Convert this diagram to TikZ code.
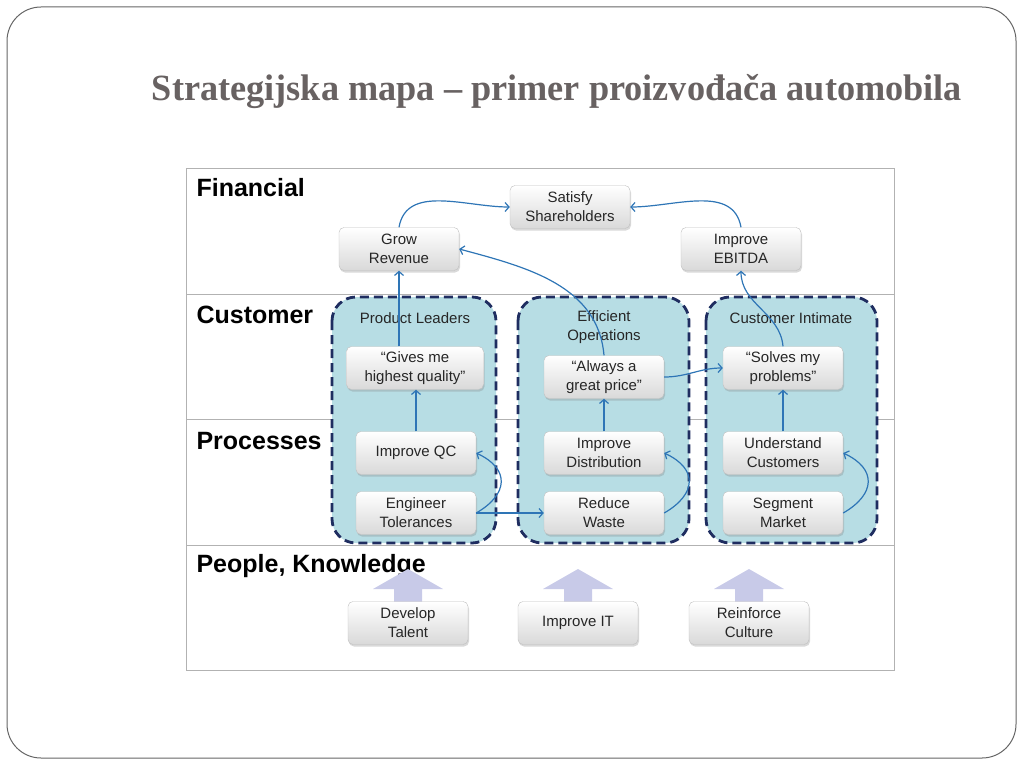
\documentclass[tikz,border=0pt]{standalone}
\usepackage{fontspec}
\setmainfont{Liberation Sans}
\newfontfamily\titlefont{Liberation Serif}
\usetikzlibrary{arrows.meta,shadows}

\definecolor{linkblue}{RGB}{46,117,182}
\definecolor{groupfill}{RGB}{183,221,228}
\definecolor{groupline}{RGB}{31,45,96}
\definecolor{titlegray}{RGB}{104,98,98}
\definecolor{uparrow}{RGB}{200,202,232}

\tikzset{
  objbox/.style={draw=gray!50, rounded corners=5pt, top color=white, bottom color=gray!30, minimum width=120pt, minimum height=43pt, align=center, text=black!85, font=\fontsize{15}{19}\selectfont, drop shadow={opacity=0.3, shadow xshift=1pt, shadow yshift=-2pt}},
  groupbox/.style={draw=groupline, fill=groupfill, line width=2.8pt, dash pattern=on 9pt off 5pt, rounded corners=24pt},
  rowlabel/.style={anchor=west, font=\bfseries\fontsize{25}{27}\selectfont},
  grouplabel/.style={align=center, font=\fontsize{15}{19}\selectfont, text=black!85},
  link/.style={draw=linkblue, line width=1.2pt, -{Straight Barb[length=4pt,width=9pt]}},
  bigarrow/.style={fill=uparrow, draw=none},
}

\begin{document}
\begin{tikzpicture}[x=1pt,y=-1pt]
\useasboundingbox (0,0) rectangle (1024,768);
\draw[gray!80!black, line width=1pt, rounded corners=34pt] (7,7) rectangle (1016,758);

\node (title) at (557,92) [text=titlegray] {\titlefont\bfseries\fontsize{37}{40}\selectfont\scalebox{0.98}[1]{Strategijska mapa – primer proizvođača automobila}};

% rows of the map
\draw[gray!60, line width=1pt] (186,168) rectangle (894,670);
\draw[gray!60, line width=1pt] (186,294) -- (894,294) (186,419) -- (894,419) (186,545) -- (894,545);
\node (fin) at (193,188) [rowlabel] {Financial};
\node (cus) at (193,315) [rowlabel] {Customer};
\node (pro) at (193,441) [rowlabel] {Processes};
\node (peo) at (193,566) [rowlabel] {People, Knowledge};

% the three value propositions
\draw[groupbox] (332,297) rectangle (496,543);
\draw[groupbox] (518,297) rectangle (689,543);
\draw[groupbox] (706,297) rectangle (877,543);
\node (pl) at (415,318) [grouplabel] {Product Leaders};
\node (eo) at (604,327) [grouplabel] {Efficient\\Operations};
\node (ci) at (791,318) [grouplabel] {Customer Intimate};

\foreach \ax in {408,578,749}
  \fill[bigarrow] (\ax-14,605) -- (\ax-14,589) -- (\ax-35,589) -- (\ax,569) -- (\ax+35,589) -- (\ax+14,589) -- (\ax+14,605) -- cycle;

\node (sat) at (570,207) [objbox] {Satisfy\\Shareholders};
\node (grow) at (399,249) [objbox] {Grow\\Revenue};
\node (ebit) at (741,249) [objbox] {Improve\\EBITDA};

\node (gives) at (415,368) [objbox, minimum width=137pt] {``Gives me\\highest quality''};
\node (always) at (604,377) [objbox] {``Always a\\great price''};
\node (solves) at (783,368) [objbox] {``Solves my\\problems''};

\node (qc) at (416,453) [objbox] {Improve QC};
\node (eng) at (416,513) [objbox] {Engineer\\Tolerances};
\node (dist) at (604,453) [objbox] {Improve\\Distribution};
\node (waste) at (604,513) [objbox] {Reduce\\Waste};
\node (under) at (783,453) [objbox] {Understand\\Customers};
\node (seg) at (783,513) [objbox] {Segment\\Market};

\node (tal) at (408,623) [objbox] {Develop\\Talent};
\node (it) at (578,623) [objbox] {Improve IT};
\node (cul) at (749,623) [objbox] {Reinforce\\Culture};

% cause and effect links
\draw[link] (grow.north) to[out=80,in=180] (sat.west);
\draw[link] (ebit.north) to[out=100,in=0] (sat.east);
\draw[link] (gives.north -| grow.south) -- (grow.south);
\draw[link] (always.north) to[out=95,in=-15] (grow.east);
\draw[link] (solves.north) to[out=95,in=-90] (ebit.south);
\draw[link] (qc.north) -- (gives.south -| qc.north);
\draw[link] (eng.east) to[out=30,in=-25,looseness=1.6] (qc.east);
\draw[link] (eng.east) -- (waste.west);
\draw[link] (dist.north) -- (always.south);
\draw[link] (waste.east) to[out=30,in=-25,looseness=1.6] (dist.east);
\draw[link] (always.east) to[out=0,in=180] (solves.west);
\draw[link] (under.north) -- (solves.south);
\draw[link] (seg.east) to[out=30,in=-25,looseness=1.6] (under.east);
\end{tikzpicture}
\end{document}
